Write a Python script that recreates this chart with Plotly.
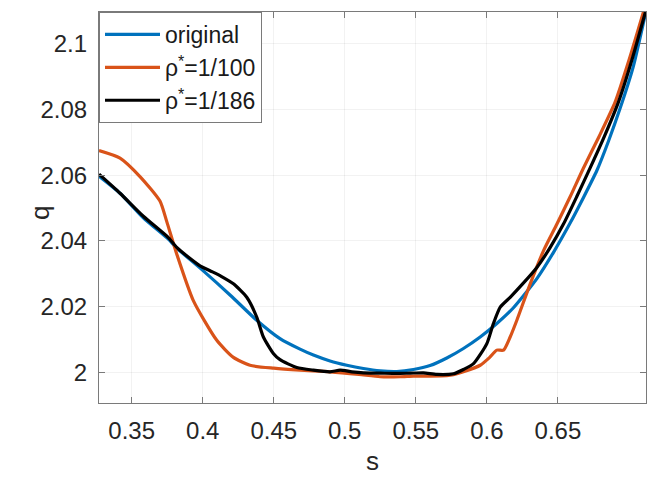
import plotly.graph_objects as go

# ---- data ----
s_orig = [0.327, 0.3418, 0.3582, 0.3758, 0.3817, 0.40, 0.42, 0.438, 0.4544, 0.4685, 0.4779,
          0.4896, 0.5014, 0.5131, 0.5249, 0.5366, 0.5483, 0.56, 0.5718, 0.5835, 0.5953,
          0.607, 0.6187, 0.6352, 0.6469, 0.6587, 0.6681, 0.6775, 0.6857, 0.6939, 0.703, 0.712]
q_orig = [2.0597, 2.0545, 2.0470, 2.0405, 2.0378, 2.0310, 2.0232, 2.0158, 2.0102, 2.0070, 2.0052,
          2.0034, 2.0021, 2.0011, 2.0004, 2.0002, 2.0008, 2.0020, 2.0043, 2.0072, 2.0107,
          2.0148, 2.0196, 2.0285, 2.0365, 2.0455, 2.0533, 2.0615, 2.0705, 2.0805, 2.0930, 2.1100]

s_100 = [0.327, 0.3418, 0.3560, 0.3699, 0.3746, 0.3817, 0.3934, 0.4099, 0.4216, 0.4333,
         0.4500, 0.4685, 0.4896, 0.5100, 0.5249, 0.539, 0.5483, 0.5600, 0.5718, 0.5765,
         0.5835, 0.5953, 0.6020, 0.607, 0.6117, 0.6164, 0.6211, 0.6305, 0.6399, 0.6493,
         0.6587, 0.668, 0.6790, 0.6904, 0.700, 0.7102]
q_100 = [2.0675, 2.0652, 2.0595, 2.0521, 2.0460, 2.0360, 2.0218, 2.0097, 2.0045, 2.0021,
         2.0012, 2.0006, 2.0001, 1.9993, 1.9986, 1.9986, 1.9988, 1.9988, 1.9989, 1.9992,
         2.0001, 2.0021, 2.0045, 2.0067, 2.0067, 2.0107, 2.0158, 2.0269, 2.0370, 2.0451,
         2.0535, 2.0622, 2.0718, 2.0824, 2.0950, 2.1097]

s_186 = [0.327, 0.3418, 0.3582, 0.3758, 0.3817, 0.3900, 0.3981, 0.4051, 0.4130, 0.4216,
         0.4310, 0.4380, 0.4427, 0.4497, 0.4544, 0.4662, 0.4779, 0.4896, 0.4967, 0.5050,
         0.5131, 0.5249, 0.5366, 0.5460, 0.5554, 0.5648, 0.5765, 0.5835, 0.5906, 0.6000,
         0.6046, 0.6094, 0.6164, 0.6250, 0.6352, 0.6446, 0.6539, 0.6633, 0.6727, 0.6827,
         0.6927, 0.7020, 0.7116]
q_186 = [2.0603, 2.0545, 2.0475, 2.0410, 2.0380, 2.0350, 2.0324, 2.0309, 2.0292, 2.0269,
         2.0228, 2.0168, 2.0107, 2.0057, 2.0038, 2.0014, 2.0006, 2.0001, 2.0006, 2.0001,
         1.9998, 1.9997, 1.9996, 1.9997, 1.9998, 1.9993, 1.9995, 2.0008, 2.0026, 2.0087,
         2.0148, 2.0198, 2.0228, 2.0268, 2.0319, 2.0380, 2.0451, 2.0535, 2.0622, 2.0718,
         2.0824, 2.0950, 2.1097]

x_ticks = [0.35, 0.4, 0.45, 0.5, 0.55, 0.6, 0.65]
x_ticklabels = ["0.35", "0.4", "0.45", "0.5", "0.55", "0.6", "0.65"]
y_ticks = [2.0, 2.02, 2.04, 2.06, 2.08, 2.1]
y_ticklabels = ["2", "2.02", "2.04", "2.06", "2.08", "2.1"]

names = ["original", "\u03c1<sup>*</sup>=1/100", "\u03c1<sup>*</sup>=1/186"]
colors = ["#0072BD", "#D95319", "#000000"]

FONT = "Liberation Sans, Arial, Helvetica, sans-serif"

fig = go.Figure()
for xs, ys, nm, c in [(s_orig, q_orig, names[0], colors[0]),
                      (s_100, q_100, names[1], colors[1]),
                      (s_186, q_186, names[2], colors[2])]:
    fig.add_trace(go.Scatter(x=xs, y=ys, mode="lines", name=nm,
                             line=dict(color=c, width=3.2, shape="spline", smoothing=0.6)))

axis_common = dict(
    showline=True, linecolor="#7a7a7a", linewidth=1.2, mirror="ticks",
    ticks="inside", ticklen=6, tickcolor="#7a7a7a", tickwidth=1,
    showgrid=True, gridcolor="rgba(0,0,0,0.05)", gridwidth=1, zeroline=False,
    tickfont=dict(family=FONT, size=24, color="#262626"),
)

fig.update_layout(
    width=647, height=482,
    margin=dict(l=99, r=1, t=12, b=79),
    paper_bgcolor="white", plot_bgcolor="white",
    font=dict(family=FONT, color="#262626"),
    showlegend=True,
    legend=dict(x=0.0, y=1.0, xanchor="left", yanchor="top",
                bgcolor="white", bordercolor="#7a7a7a", borderwidth=1,
                font=dict(family=FONT, size=23, color="#1a1a1a"),
                itemwidth=55, tracegroupgap=0),
    xaxis=dict(range=[0.327, 0.712], tickvals=x_ticks, ticktext=x_ticklabels,
               title=dict(text="s", font=dict(family=FONT, size=26, color="#262626"), standoff=8),
               ticklabelstandoff=6, **axis_common),
    yaxis=dict(range=[1.9906, 2.1097], tickvals=y_ticks, ticktext=y_ticklabels,
               ticklabelstandoff=6, **axis_common),
    annotations=[dict(text="q", xref="paper", yref="paper", x=-0.108, y=0.486,
                      xanchor="center", yanchor="middle", textangle=-90, showarrow=False,
                      font=dict(family=FONT, size=26, color="#262626"))],
)

fig.write_html("out.html")
